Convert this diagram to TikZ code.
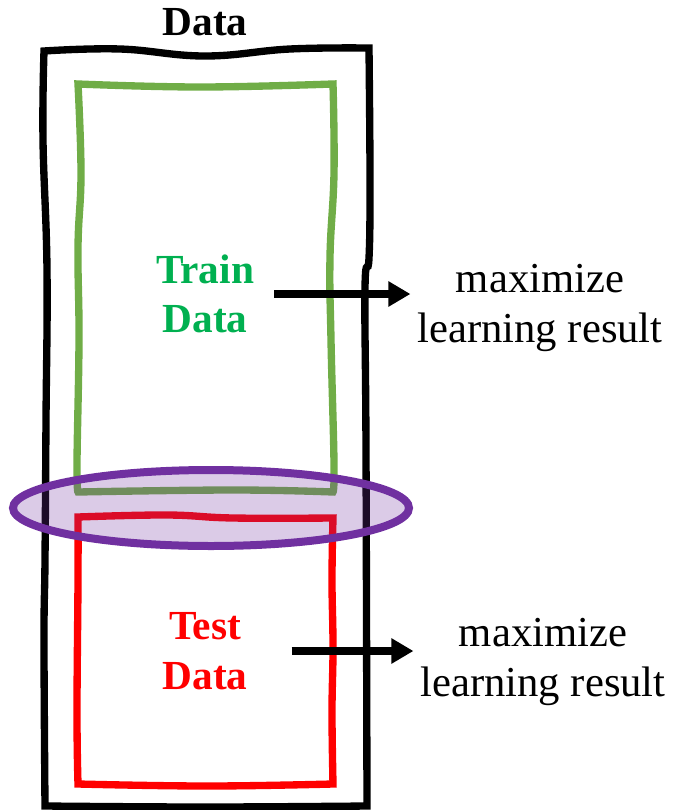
\documentclass[tikz,border=0pt]{standalone}
\usepackage{fontspec}
\setmainfont{Liberation Serif}
\usetikzlibrary{arrows.meta}

\definecolor{boxgreen}{HTML}{70AD47}
\definecolor{txtgreen}{HTML}{00B050}
\definecolor{selpurple}{HTML}{7030A0}

\begin{document}
\begin{tikzpicture}[x=0.75pt,y=-0.75pt,
  box/.style={line width=5.5pt,line join=miter},
  selection/.style={draw=selpurple,line width=6pt,fill=selpurple,fill opacity=0.25},
  lbl/.style={font=\fontsize{32pt}{37pt}\selectfont,align=center,inner sep=0pt},
  bold/.style={font=\fontsize{31pt}{37pt}\selectfont\bfseries},
  arr/.style={line width=6pt,-{Triangle[length=16.5pt,width=18pt]}}
]
\useasboundingbox (0,0) rectangle (674,810);

% whole data set
\draw[box,black] plot[smooth,tension=0.7] coordinates {(44,51) (120,49) (205,56) (290,49) (369,48)}
  -- plot[smooth,tension=0.7] coordinates {(369,48) (370,180) (369,258) (365,288) (366,450) (367,806)}
  -- plot[smooth,tension=0.7] coordinates {(367,806) (205,807) (45,806)}
  -- plot[smooth,tension=0.7] coordinates {(45,806) (44,640) (45,560) (46,420) (47,270) (43,140) (44,51)}
  -- cycle;
\node[lbl,bold] (title) at (205,22) {Data};

% train part
\draw[box,boxgreen] plot[smooth,tension=0.7] coordinates {(78,84) (200,87) (333,84)}
  -- plot[smooth,tension=0.7] coordinates {(333,84) (334,173) (330,257) (331,340) (334,463) (333,492)}
  -- plot[smooth,tension=0.7] coordinates {(333,492) (233,490) (78,492)}
  -- plot[smooth,tension=0.7] coordinates {(78,492) (77,463) (79,340) (78,247) (81,173) (78,84)}
  -- cycle;

% test part
\draw[box,red] plot[smooth,tension=0.7] coordinates {(78,517) (167,515) (233,518) (333,518)}
  -- plot[smooth,tension=0.7] coordinates {(333,518) (332,580) (333,647) (332,713) (333,784)}
  -- plot[smooth,tension=0.7] coordinates {(333,784) (207,786) (78,784)}
  -- plot[smooth,tension=0.7] coordinates {(78,784) (77,713) (78,580) (78,517)}
  -- cycle;

\draw[selection] (211,508) ellipse [x radius=198, y radius=38];

\node[lbl,bold,text=txtgreen] (train) at (205,294) {Train\\Data};
\node[lbl,bold,text=red] (test) at (205,651) {Test\\Data};

\node[lbl] (resTrain) at (540,308) {maximize\\learning result};
\node[lbl] (resTest) at (543,662) {maximize\\learning result};

\draw[arr] ([xshift=15pt]train.east) -- ([xshift=-5pt]resTrain.west |- train.east);
\draw[arr] ([xshift=33pt]test.east) -- ([xshift=-5pt]resTest.west |- test.east);
\end{tikzpicture}
\end{document}
